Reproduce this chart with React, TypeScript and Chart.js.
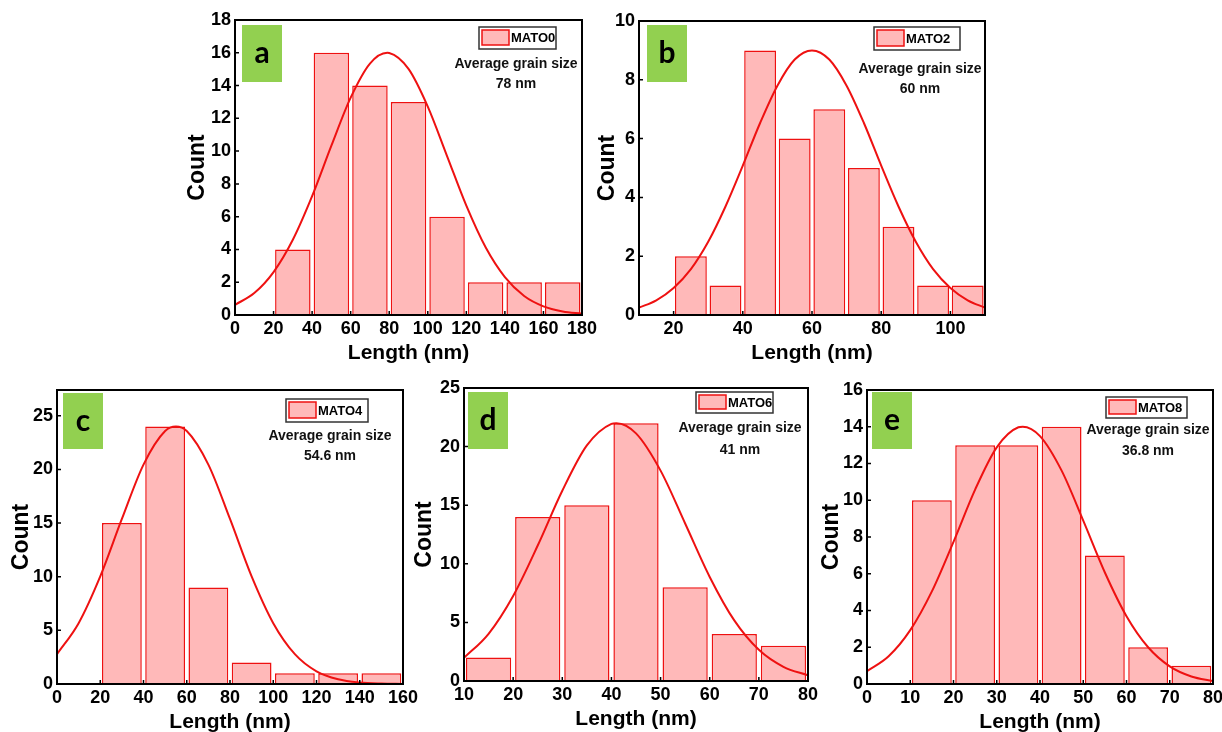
import React, { useEffect, useRef } from "react";
import { Chart, registerables } from "chart.js";
Chart.register(...registerables);

// ---------- data ----------
const binsA = [30, 50, 70, 90, 110, 130, 150, 170];
const countsA = [4, 16, 14, 13, 6, 2, 2, 2];
const fitXA = [0, 10, 20, 30, 40, 50, 60, 70, 79, 80, 90, 100, 110, 120, 130, 140, 150, 160, 170, 180];
const fitYA = [0.62, 1.34, 2.62, 4.59, 7.25, 10.33, 13.26, 15.34, 16.0, 15.99, 15.02, 12.72, 9.7, 6.67, 4.13, 2.31, 1.16, 0.53, 0.22, 0.08];
const xTicksA = [0, 20, 40, 60, 80, 100, 120, 140, 160, 180];
const yTicksA = [0, 2, 4, 6, 8, 10, 12, 14, 16, 18];

const binsB = [25, 35, 45, 55, 65, 75, 85, 95, 105];
const countsB = [2, 1, 9, 6, 7, 5, 3, 1, 1];
const fitXB = [10, 15, 20, 25, 30, 35, 40, 45, 50, 55, 60, 65, 70, 75, 80, 85, 90, 95, 100, 105, 110];
const fitYB = [0.25, 0.5, 0.92, 1.56, 2.49, 3.69, 5.08, 6.53, 7.8, 8.69, 9.0, 8.69, 7.8, 6.53, 5.08, 3.69, 2.49, 1.56, 0.92, 0.5, 0.25];
const xTicksB = [20, 40, 60, 80, 100];
const yTicksB = [0, 2, 4, 6, 8, 10];

const binsC = [30, 50, 70, 90, 110, 130, 150];
const countsC = [15, 24, 9, 2, 1, 1, 1];
const fitXC = [0, 10, 20, 30, 40, 50, 55, 60, 70, 80, 90, 100, 110, 120, 130, 140, 150, 160];
const fitYC = [2.78, 5.67, 10.03, 15.38, 20.45, 23.58, 24.0, 23.58, 20.45, 15.38, 10.03, 5.67, 2.78, 1.18, 0.44, 0.14, 0.04, 0.01];
const xTicksC = [0, 20, 40, 60, 80, 100, 120, 140, 160];
const yTicksC = [0, 5, 10, 15, 20, 25];

const binsD = [15, 25, 35, 45, 55, 65, 75];
const countsD = [2, 14, 15, 22, 8, 4, 3];
const fitXD = [10, 15, 20, 25, 30, 35, 40, 41, 45, 50, 55, 60, 65, 70, 75, 80];
const fitYD = [1.97, 4.03, 7.26, 11.56, 16.23, 20.1, 21.94, 22.0, 21.13, 17.95, 13.44, 8.88, 5.17, 2.66, 1.21, 0.48];
const xTicksD = [10, 20, 30, 40, 50, 60, 70, 80];
const yTicksD = [0, 5, 10, 15, 20, 25];

const binsE = [15, 25, 35, 45, 55, 65, 75];
const countsE = [10, 13, 13, 14, 7, 2, 1];
const fitXE = [0, 5, 10, 15, 20, 25, 30, 35, 36, 40, 45, 50, 55, 60, 65, 70, 75, 80];
const fitYE = [0.7, 1.51, 2.93, 5.04, 7.74, 10.58, 12.88, 13.97, 14.0, 13.49, 11.61, 8.89, 6.07, 3.69, 2.0, 0.96, 0.41, 0.16];
const xTicksE = [0, 10, 20, 30, 40, 50, 60, 70, 80];
const yTicksE = [0, 2, 4, 6, 8, 10, 12, 14, 16];

const letters = ["a", "b", "c", "d", "e"];
const sampleNames = ["MATO0", "MATO2", "MATO4", "MATO6", "MATO8"];
const grainSizes = ["78 nm", "60 nm", "54.6 nm", "41 nm", "36.8 nm"];
const avgLabel = "Average grain size";
const xTitle = "Length (nm)";
const yTitle = "Count";

// ---------- layout (positions / sizes only) ----------
const LEFT_W = 60;
const TOP_PAD = 15;
const RIGHT_PAD = 22;
const BOTTOM_H = 55;

const panels = [
  { bins: binsA, counts: countsA, fitX: fitXA, fitY: fitYA, xTicks: xTicksA, yTicks: yTicksA,
    xMin: 0, xMax: 180, yMax: 18, plot: [235, 20, 582, 315], yTitleX: 198,
    green: [7, 5, 40, 57], legend: [244, 7, 77, 22], avg: [281, 44, 64] },
  { bins: binsB, counts: countsB, fitX: fitXB, fitY: fitYB, xTicks: xTicksB, yTicks: yTicksB,
    xMin: 10, xMax: 110, yMax: 10, plot: [639, 21, 985, 315], yTitleX: 608,
    green: [8, 4, 40, 57], legend: [235, 6, 86, 23], avg: [281, 48, 68] },
  { bins: binsC, counts: countsC, fitX: fitXC, fitY: fitYC, xTicks: xTicksC, yTicks: yTicksC,
    xMin: 0, xMax: 160, yMax: 27.4, plot: [57, 390, 403, 684], yTitleX: 22,
    green: [6, 3, 40, 56], legend: [229, 9, 82, 23], avg: [273, 46, 66] },
  { bins: binsD, counts: countsD, fitX: fitXD, fitY: fitYD, xTicks: xTicksD, yTicks: yTicksD,
    xMin: 10, xMax: 80, yMax: 25, plot: [464, 388, 808, 681], yTitleX: 425,
    green: [4, 4, 40, 57], legend: [232, 4, 77, 21], avg: [276, 40, 62] },
  { bins: binsE, counts: countsE, fitX: fitXE, fitY: fitYE, xTicks: xTicksE, yTicks: yTicksE,
    xMin: 0, xMax: 80, yMax: 16, plot: [867, 390, 1213, 684], yTitleX: 832,
    green: [5, 2, 40, 57], legend: [239, 7, 81, 21], avg: [281, 40, 61] },
];

const RED = "#ee1111";
const PINK = "rgba(255,185,185,1)";
const GREEN = "#92d050";
const TICK_FONT = { family: "'Liberation Sans', Arial, sans-serif", size: 18, weight: "bold" as const };

const annotPlugin = {
  id: "annot",
  afterDatasetsDraw(chart: any, _args: any, opts: any) {
    const { ctx, chartArea: ca, scales } = chart;
    const i = opts.index;
    const p = panels[i];
    ctx.save();
    // inward tick marks
    ctx.strokeStyle = "#000";
    ctx.lineWidth = 1.5;
    ctx.beginPath();
    scales.x.ticks.forEach((t: any) => {
      const px = scales.x.getPixelForValue(t.value);
      ctx.moveTo(px, ca.bottom);
      ctx.lineTo(px, ca.bottom - 4);
    });
    scales.y.ticks.forEach((t: any) => {
      const py = scales.y.getPixelForValue(t.value);
      ctx.moveTo(ca.left, py);
      ctx.lineTo(ca.left + 4, py);
    });
    ctx.stroke();
    // frame
    ctx.lineWidth = 2;
    ctx.strokeRect(ca.left, ca.top, ca.right - ca.left, ca.bottom - ca.top);

    // green letter box
    const [gx, gy, gw, gh] = p.green;
    ctx.fillStyle = GREEN;
    ctx.fillRect(ca.left + gx, ca.top + gy, gw, gh);
    ctx.fillStyle = "#000";
    ctx.font = "bold 30px Lato, 'Open Sans', sans-serif";
    ctx.textAlign = "center";
    ctx.textBaseline = "middle";
    ctx.fillText(letters[i], ca.left + gx + gw / 2, ca.top + gy + gh / 2);

    // legend
    const [lx, ly, lw, lh] = p.legend;
    const bx = ca.left + lx, by = ca.top + ly;
    ctx.fillStyle = "#fff";
    ctx.fillRect(bx, by, lw, lh);
    ctx.strokeStyle = "#333";
    ctx.lineWidth = 1.5;
    ctx.strokeRect(bx, by, lw, lh);
    ctx.fillStyle = PINK;
    ctx.fillRect(bx + 3, by + 3, 27, lh - 7);
    ctx.strokeStyle = RED;
    ctx.lineWidth = 1.5;
    ctx.strokeRect(bx + 3, by + 3, 27, lh - 7);
    ctx.fillStyle = "#000";
    ctx.font = "bold 13px 'Liberation Sans', Arial, sans-serif";
    ctx.textAlign = "left";
    ctx.fillText(sampleNames[i], bx + 32, by + lh / 2 + 0.5);

    // average grain size text
    const [ax, ay1, ay2] = p.avg;
    ctx.font = "bold 14px 'Liberation Sans', Arial, sans-serif";
    ctx.textAlign = "center";
    ctx.fillStyle = "#111";
    ctx.fillText(avgLabel, ca.left + ax, ca.top + ay1);
    ctx.fillText(grainSizes[i], ca.left + ax, ca.top + ay2);
    ctx.restore();
  },
};

function Panel({ index }: { index: number }) {
  const ref = useRef<HTMLCanvasElement | null>(null);
  const p = panels[index];
  const [pl, pt, pr, pb] = p.plot;
  const left = pl - LEFT_W;
  const top = pt - TOP_PAD;
  const width = pr - pl + LEFT_W + RIGHT_PAD;
  const height = pb - pt + TOP_PAD + BOTTOM_H;

  useEffect(() => {
    if (!ref.current) return;
    const yLine = 23 * 1.2;
    const xLine = 21 * 1.2;
    const chart = new Chart(ref.current, {
      type: "bar",
      data: {
        datasets: [
          {
            type: "line",
            data: p.fitX.map((x, k) => ({ x, y: p.fitY[k] })),
            borderColor: RED,
            borderWidth: 2,
            pointRadius: 0,
            cubicInterpolationMode: "monotone",
            fill: false,
            order: 0,
          } as any,
          {
            type: "bar",
            data: p.bins.map((x, k) => ({ x, y: p.counts[k] })),
            backgroundColor: PINK,
            borderColor: RED,
            borderWidth: 1.5,
            barPercentage: 0.92,
            categoryPercentage: 1,
            order: 1,
          } as any,
        ],
      },
      options: {
        responsive: false,
        animation: false,
        devicePixelRatio: 1,
        layout: { padding: { left: 0, top: TOP_PAD, right: RIGHT_PAD, bottom: 0 } },
        plugins: {
          legend: { display: false },
          tooltip: { enabled: false },
          annot: { index },
        } as any,
        scales: {
          x: {
            type: "linear",
            min: p.xMin,
            max: p.xMax,
            offset: false,
            grid: { display: false, drawTicks: false },
            border: { display: false },
            afterBuildTicks: (s: any) => {
              s.ticks = p.xTicks.map((v) => ({ value: v }));
            },
            afterFit: (s: any) => {
              s.height = BOTTOM_H;
            },
            ticks: { color: "#000", font: TICK_FONT, padding: 3, maxRotation: 0, autoSkip: false },
            title: {
              display: true,
              text: xTitle,
              color: "#000",
              font: { family: "'Liberation Sans', Arial, sans-serif", size: 21, weight: "bold" },
              padding: { top: 0, bottom: BOTTOM_H - 38 - xLine / 2 },
            },
          },
          y: {
            type: "linear",
            min: 0,
            max: p.yMax,
            grid: { display: false, drawTicks: false },
            border: { display: false },
            afterBuildTicks: (s: any) => {
              s.ticks = p.yTicks.map((v) => ({ value: v }));
            },
            afterFit: (s: any) => {
              s.width = LEFT_W;
            },
            ticks: { color: "#000", font: TICK_FONT, padding: 4, autoSkip: false },
            title: {
              display: true,
              text: yTitle,
              color: "#000",
              font: { family: "'Liberation Sans', Arial, sans-serif", size: 23, weight: "bold" },
              padding: { top: p.yTitleX - left - yLine / 2, bottom: 0 },
            },
          },
        },
      } as any,
      plugins: [annotPlugin],
    });
    return () => chart.destroy();
  }, [index]);

  return (
    <canvas
      ref={ref}
      width={width}
      height={height}
      style={{ position: "absolute", left, top, width, height }}
    />
  );
}

export default function App() {
  return (
    <div
      style={{
        position: "absolute",
        left: 0,
        top: 0,
        width: 1222,
        height: 732,
        overflow: "hidden",
        background: "#fff",
      }}
    >
      {panels.map((_, i) => (
        <Panel key={i} index={i} />
      ))}
    </div>
  );
}
